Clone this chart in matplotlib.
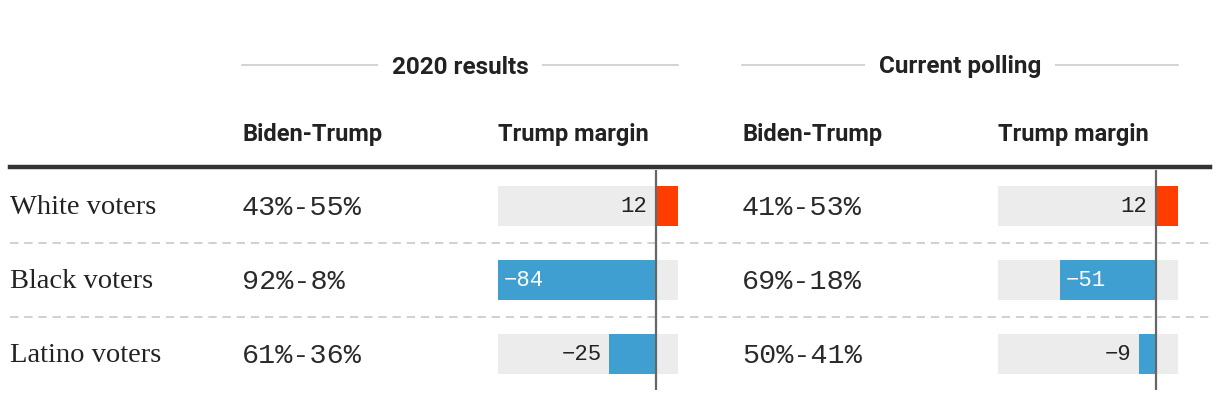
import matplotlib.pyplot as plt
from matplotlib.lines import Line2D

groups = ["White voters", "Black voters", "Latino voters"]
results_2020 = ["43%-55%", "92%-8%", "61%-36%"]
margin_2020 = [12, -84, -25]
polling_now = ["41%-53%", "69%-18%", "50%-41%"]
margin_now = [12, -51, -9]

section_titles = ["2020 results", "Current polling"]
col_titles = ["Biden-Trump", "Trump margin"]

RED = "#ff3d00"
BLUE = "#3f9fd0"
GRAY = "#ececec"
INK = "#222222"

HEAD_FONT = "Roboto"
SERIF = "Liberation Serif"
MONO = "Liberation Mono"

W, H = 1220, 400
fig = plt.figure(figsize=(W / 100, H / 100), dpi=100)

# full-figure layout axes in pixel units
lay = fig.add_axes([0, 0, 1, 1])
lay.set_xlim(0, W)
lay.set_ylim(H, 0)
lay.axis("off")

row_y = [206, 280, 354]
sections = [(242, 498, results_2020, margin_2020), (742, 998, polling_now, margin_now)]

lo = min(margin_2020 + margin_now)
hi = max(margin_2020 + margin_now)

for (x_txt, x_bar, texts, margins), title in zip(sections, section_titles):
    # section header with rule
    lay.plot([x_txt, x_bar + 180], [65, 65], color="#cccccc", lw=1.2, zorder=1)
    lay.text((x_txt + x_bar + 180) / 2, 67, title, ha="center", va="center",
             fontsize=17.5, fontweight="bold", family=HEAD_FONT, color=INK,
             bbox=dict(facecolor="white", edgecolor="none", pad=10), zorder=2)
    lay.text(x_txt, 135, col_titles[0], ha="left", va="center",
             fontsize=17, fontweight="bold", family=HEAD_FONT, color=INK)
    lay.text(x_bar, 135, col_titles[1], ha="left", va="center",
             fontsize=17, fontweight="bold", family=HEAD_FONT, color=INK)
    for y, t in zip(row_y, texts):
        lay.text(x_txt, y + 2, t, ha="left", va="center", fontsize=20.5,
                 family=MONO, color="#2a2a2a")

    # bar panel
    ax = fig.add_axes([x_bar / W, (H - 390) / H, 180 / W, 220 / H])
    ax.set_xlim(lo, hi)
    ax.set_ylim(2 + 36 / 74, -36 / 74)
    ax.axis("off")
    pos = range(len(margins))
    ax.barh(pos, [hi - lo] * len(margins), left=lo, height=40 / 74,
            color=GRAY, zorder=1)
    ax.barh(pos, margins, height=40 / 74,
            color=[RED if m > 0 else BLUE for m in margins], zorder=2)
    ax.axvline(0, color="#666666", lw=1.6, zorder=3)
    for i, m in enumerate(margins):
        lab = str(m).replace("-", "\u2212")
        if m > 0:
            ax.annotate(lab, (0, i), xytext=(-8, -1), textcoords="offset pixels",
                        ha="right", va="center", fontsize=16, family=MONO, color=INK)
        elif abs(m) > 40:
            ax.annotate(lab, (m, i), xytext=(6, -1), textcoords="offset pixels",
                        ha="left", va="center", fontsize=16, family=MONO, color="white")
        else:
            ax.annotate(lab, (m, i), xytext=(-7, -1), textcoords="offset pixels",
                        ha="right", va="center", fontsize=16, family=MONO, color=INK)

# row labels and rules
for y, g in zip(row_y, groups):
    lay.text(10, y + 2, g, ha="left", va="center", fontsize=20.5, family=SERIF, color=INK)

lay.add_line(Line2D([10, 1210], [167, 167], color="#333333", lw=3.2))
for y in [243, 317]:
    lay.add_line(Line2D([10, 1210], [y, y], color="#c8c8c8", lw=1.2,
                        linestyle=(0, (5, 3.5)), zorder=0))

fig.savefig("out.png", dpi=100, facecolor="white")
